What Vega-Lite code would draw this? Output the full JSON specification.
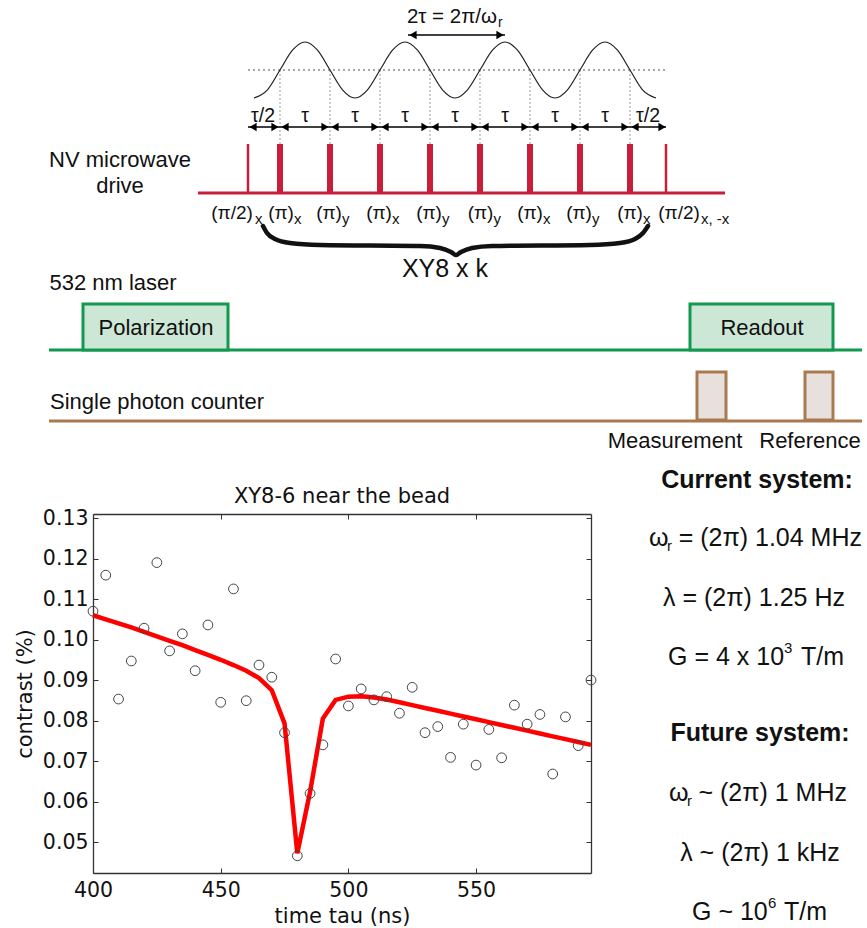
{
  "$schema": "https://vega.github.io/schema/vega-lite/v6.json",
  "width": 867,
  "height": 928,
  "padding": 0,
  "autosize": {"type": "none"},
  "background": "white",
  "config": {
    "view": {"stroke": null},
    "text": {"font": "Liberation Sans", "color": "#111111"},
    "axis": {
      "grid": false,
      "domainColor": "#333333",
      "domainWidth": 1.3,
      "tickColor": "#333333",
      "tickSize": -5,
      "tickWidth": 1,
      "labelFont": "DejaVu Sans",
      "labelFontSize": 20.5,
      "labelColor": "#111111",
      "labelPadding": 11,
      "labelFlush": false,
      "labelOverlap": false,
      "labelBound": false,
      "titleFont": "DejaVu Sans",
      "titleFontSize": 21,
      "titleFontWeight": "normal",
      "titleColor": "#111111"
    }
  },
  "datasets": {
    "wave": [
      {"x": 254, "y": 98}, {"x": 267.5, "y": 89.8}, {"x": 280, "y": 70}, {"x": 292.5, "y": 50.2},
      {"x": 305, "y": 42}, {"x": 317.5, "y": 50.2}, {"x": 330, "y": 70}, {"x": 342.5, "y": 89.8},
      {"x": 355, "y": 98}, {"x": 367.5, "y": 89.8}, {"x": 380, "y": 70}, {"x": 392.5, "y": 50.2},
      {"x": 405, "y": 42}, {"x": 417.5, "y": 50.2}, {"x": 430, "y": 70}, {"x": 442.5, "y": 89.8},
      {"x": 455, "y": 98}, {"x": 467.5, "y": 89.8}, {"x": 480, "y": 70}, {"x": 492.5, "y": 50.2},
      {"x": 505, "y": 42}, {"x": 517.5, "y": 50.2}, {"x": 530, "y": 70}, {"x": 542.5, "y": 89.8},
      {"x": 555, "y": 98}, {"x": 567.5, "y": 89.8}, {"x": 580, "y": 70}, {"x": 592.5, "y": 50.2},
      {"x": 605, "y": 42}, {"x": 617.5, "y": 50.2}, {"x": 630, "y": 70}, {"x": 642.5, "y": 89.8},
      {"x": 656, "y": 98}
    ],
    "dotH": [{"x": 248, "x2": 665, "y": 70}],
    "dotV": [
      {"x": 280, "y": 70, "y2": 144}, {"x": 330, "y": 70, "y2": 144}, {"x": 380, "y": 70, "y2": 144},
      {"x": 430, "y": 70, "y2": 144}, {"x": 480, "y": 70, "y2": 144}, {"x": 530, "y": 70, "y2": 144},
      {"x": 580, "y": 70, "y2": 144}, {"x": 630, "y": 70, "y2": 144}
    ],
    "arrowLines": [{"x": 248, "x2": 666, "y": 127}, {"x": 408, "x2": 505, "y": 35}],
    "arrowR": [
      {"x": 280, "y": 127}, {"x": 330, "y": 127}, {"x": 380, "y": 127}, {"x": 430, "y": 127},
      {"x": 480, "y": 127}, {"x": 530, "y": 127}, {"x": 580, "y": 127}, {"x": 630, "y": 127},
      {"x": 667, "y": 127}, {"x": 505, "y": 35}
    ],
    "arrowL": [
      {"x": 248, "y": 127}, {"x": 280, "y": 127}, {"x": 330, "y": 127}, {"x": 380, "y": 127},
      {"x": 430, "y": 127}, {"x": 480, "y": 127}, {"x": 530, "y": 127}, {"x": 580, "y": 127},
      {"x": 630, "y": 127}, {"x": 408, "y": 35}
    ],
    "tauLabels": [
      {"x": 263, "y": 116, "label": "τ/2"}, {"x": 305, "y": 116, "label": "τ"},
      {"x": 355, "y": 116, "label": "τ"}, {"x": 405, "y": 116, "label": "τ"},
      {"x": 455, "y": 116, "label": "τ"}, {"x": 505, "y": 116, "label": "τ"},
      {"x": 555, "y": 116, "label": "τ"}, {"x": 605, "y": 116, "label": "τ"},
      {"x": 648, "y": 116, "label": "τ/2"}
    ],
    "redBase": [{"x": 198, "x2": 725, "y": 193}],
    "pulsesThick": [
      {"x": 280, "y": 144, "y2": 193}, {"x": 330, "y": 144, "y2": 193}, {"x": 380, "y": 144, "y2": 193},
      {"x": 430, "y": 144, "y2": 193}, {"x": 480, "y": 144, "y2": 193}, {"x": 530, "y": 144, "y2": 193},
      {"x": 580, "y": 144, "y2": 193}, {"x": 630, "y": 144, "y2": 193}
    ],
    "pulsesThin": [{"x": 248, "y": 144, "y2": 193}, {"x": 666, "y": 144, "y2": 193}],
    "pulseMain": [
      {"x": 232, "y": 213, "label": "(π/2)"}, {"x": 281, "y": 213, "label": "(π)"},
      {"x": 329, "y": 213, "label": "(π)"}, {"x": 379, "y": 213, "label": "(π)"},
      {"x": 429, "y": 213, "label": "(π)"}, {"x": 480.5, "y": 213, "label": "(π)"},
      {"x": 530, "y": 213, "label": "(π)"}, {"x": 579, "y": 213, "label": "(π)"},
      {"x": 630, "y": 213, "label": "(π)"}, {"x": 679, "y": 213, "label": "(π/2)"}
    ],
    "subs": [
      {"x": 255, "y": 219, "label": "x"}, {"x": 294, "y": 219, "label": "x"},
      {"x": 342, "y": 219, "label": "y"}, {"x": 392, "y": 219, "label": "x"},
      {"x": 442, "y": 219, "label": "y"}, {"x": 493.5, "y": 219, "label": "y"},
      {"x": 543, "y": 219, "label": "x"}, {"x": 592, "y": 219, "label": "y"},
      {"x": 643, "y": 219, "label": "x"}, {"x": 701, "y": 219, "label": "x, -x"}
    ],
    "twoTauSub": [{"x": 498, "y": 23, "label": "r"}],
    "brace": [
      {"x": 263, "y": 226}, {"x": 267, "y": 233}, {"x": 275, "y": 239}, {"x": 290, "y": 243},
      {"x": 320, "y": 245}, {"x": 420, "y": 246}, {"x": 440, "y": 248}, {"x": 451, "y": 252},
      {"x": 456, "y": 255}, {"x": 461, "y": 252}, {"x": 472, "y": 248}, {"x": 492, "y": 246},
      {"x": 590, "y": 245}, {"x": 620, "y": 243}, {"x": 635, "y": 239}, {"x": 643, "y": 233},
      {"x": 648, "y": 226}
    ],
    "greenLine": [{"x": 49, "x2": 862, "y": 350}],
    "greenBoxes": [{"x": 83, "x2": 228, "y": 304, "y2": 350}, {"x": 690, "x2": 833, "y": 304, "y2": 350}],
    "brownLine": [{"x": 49, "x2": 862, "y": 421}],
    "brownBoxes": [{"x": 697, "x2": 726, "y": 372, "y2": 420}, {"x": 805, "x2": 833, "y": 372, "y2": 420}],
    "labels22": [
      {"x": 120, "y": 160, "label": "NV microwave"},
      {"x": 120, "y": 186, "label": "drive"},
      {"x": 113, "y": 283, "label": "532 nm laser"},
      {"x": 156, "y": 328, "label": "Polarization"},
      {"x": 762, "y": 328, "label": "Readout"},
      {"x": 157, "y": 402, "label": "Single photon counter"},
      {"x": 675, "y": 441, "label": "Measurement"},
      {"x": 810, "y": 441, "label": "Reference"}
    ],
    "xy8": [{"x": 445, "y": 269, "label": "XY8 x k"}],
    "twoTau": [{"x": 497, "y": 17, "label": "2τ = 2π/ω"}],
    "plotTitle": [{"x": 342, "y": 497, "label": "XY8-6 near the bead"}],
    "boldRight": [
      {"x": 757, "y": 480, "label": "Current system:"},
      {"x": 760, "y": 733, "label": "Future system:"}
    ],
    "rightLeft": [
      {"x": 649, "y": 538, "label": "ω"},
      {"x": 668, "y": 657, "label": "G = 4 x 10"},
      {"x": 669, "y": 793, "label": "ω"},
      {"x": 692, "y": 912, "label": "G ~ 10"}
    ],
    "rightRight": [
      {"x": 862, "y": 538, "label": "= (2π) 1.04 MHz"},
      {"x": 844, "y": 657, "label": "T/m"},
      {"x": 847, "y": 793, "label": "~ (2π) 1 MHz"},
      {"x": 827, "y": 912, "label": "T/m"}
    ],
    "rightCenter": [
      {"x": 754, "y": 598, "label": "λ = (2π) 1.25 Hz"},
      {"x": 760, "y": 853, "label": "λ ~ (2π) 1 kHz"}
    ],
    "rightSmall": [
      {"x": 667, "y": 546, "label": "r"},
      {"x": 784, "y": 648, "label": "3"},
      {"x": 687, "y": 801, "label": "r"},
      {"x": 768, "y": 903, "label": "6"}
    ],
    "pts": [
      {"t": 400, "c": 0.1070}, {"t": 405, "c": 0.1159}, {"t": 410, "c": 0.0853}, {"t": 415, "c": 0.0947},
      {"t": 420, "c": 0.1028}, {"t": 425, "c": 0.1190}, {"t": 430, "c": 0.0972}, {"t": 435, "c": 0.1014},
      {"t": 440, "c": 0.0923}, {"t": 445, "c": 0.1036}, {"t": 450, "c": 0.0845}, {"t": 455, "c": 0.1125},
      {"t": 460, "c": 0.0849}, {"t": 465, "c": 0.0937}, {"t": 470, "c": 0.0907}, {"t": 475, "c": 0.0770},
      {"t": 480, "c": 0.0466}, {"t": 485, "c": 0.0620}, {"t": 490, "c": 0.0740}, {"t": 495, "c": 0.0952},
      {"t": 500, "c": 0.0836}, {"t": 505, "c": 0.0878}, {"t": 510, "c": 0.0851}, {"t": 515, "c": 0.0859},
      {"t": 520, "c": 0.0818}, {"t": 525, "c": 0.0882}, {"t": 530, "c": 0.0770}, {"t": 535, "c": 0.0785},
      {"t": 540, "c": 0.0709}, {"t": 545, "c": 0.0791}, {"t": 550, "c": 0.0690}, {"t": 555, "c": 0.0778},
      {"t": 560, "c": 0.0708}, {"t": 565, "c": 0.0838}, {"t": 570, "c": 0.0791}, {"t": 575, "c": 0.0815},
      {"t": 580, "c": 0.0668}, {"t": 585, "c": 0.0809}, {"t": 590, "c": 0.0738}, {"t": 595, "c": 0.0900}
    ],
    "fit": [
      {"t": 400, "c": 0.1060}, {"t": 405, "c": 0.1050}, {"t": 410, "c": 0.1040}, {"t": 415, "c": 0.1030},
      {"t": 420, "c": 0.1019}, {"t": 425, "c": 0.1008}, {"t": 430, "c": 0.0997}, {"t": 435, "c": 0.0986},
      {"t": 440, "c": 0.0974}, {"t": 445, "c": 0.0962}, {"t": 450, "c": 0.0950}, {"t": 455, "c": 0.0937},
      {"t": 460, "c": 0.0923}, {"t": 465, "c": 0.0905}, {"t": 470, "c": 0.0875}, {"t": 475, "c": 0.0793},
      {"t": 480, "c": 0.0472}, {"t": 485, "c": 0.0624}, {"t": 490, "c": 0.0805}, {"t": 495, "c": 0.0851},
      {"t": 500, "c": 0.0859}, {"t": 505, "c": 0.0860}, {"t": 510, "c": 0.0857}, {"t": 515, "c": 0.0852},
      {"t": 520, "c": 0.0845}, {"t": 525, "c": 0.0838}, {"t": 530, "c": 0.0831}, {"t": 535, "c": 0.0824},
      {"t": 540, "c": 0.0817}, {"t": 545, "c": 0.0810}, {"t": 550, "c": 0.0803}, {"t": 555, "c": 0.0796},
      {"t": 560, "c": 0.0789}, {"t": 565, "c": 0.0782}, {"t": 570, "c": 0.0775}, {"t": 575, "c": 0.0768},
      {"t": 580, "c": 0.0761}, {"t": 585, "c": 0.0754}, {"t": 590, "c": 0.0747}, {"t": 595, "c": 0.0740}
    ]
  },
  "layer": [
    {
      "encoding": {
        "x": {"field": "x", "type": "quantitative", "scale": {"domain": [0, 867], "range": [0, 867], "nice": false, "zero": false}, "axis": null},
        "y": {"field": "y", "type": "quantitative", "scale": {"domain": [0, 928], "range": [0, 928], "nice": false, "zero": false}, "axis": null}
      },
      "layer": [
        {"data": {"name": "dotH"}, "mark": {"type": "rule", "color": "#555555", "strokeWidth": 1.2, "strokeDash": [2, 3]}, "encoding": {"x2": {"field": "x2"}}},
        {"data": {"name": "dotV"}, "mark": {"type": "rule", "color": "#9a9a9a", "strokeWidth": 1, "strokeDash": [2, 2]}, "encoding": {"y2": {"field": "y2"}}},
        {"data": {"name": "wave"}, "mark": {"type": "line", "color": "#222222", "strokeWidth": 1.2, "interpolate": "monotone"}, "encoding": {}},
        {"data": {"name": "arrowLines"}, "mark": {"type": "rule", "color": "#000000", "strokeWidth": 1.5}, "encoding": {"x2": {"field": "x2"}}},
        {"data": {"name": "arrowR"}, "mark": {"type": "point", "shape": "triangle-right", "filled": true, "color": "#000000", "size": 70, "opacity": 1, "xOffset": -5}, "encoding": {}},
        {"data": {"name": "arrowL"}, "mark": {"type": "point", "shape": "triangle-left", "filled": true, "color": "#000000", "size": 70, "opacity": 1, "xOffset": 5}, "encoding": {}},
        {"data": {"name": "tauLabels"}, "mark": {"type": "text", "fontSize": 19.5}, "encoding": {"text": {"field": "label", "type": "nominal"}}},
        {"data": {"name": "twoTau"}, "mark": {"type": "text", "fontSize": 20.5, "align": "right"}, "encoding": {"text": {"field": "label", "type": "nominal"}}},
        {"data": {"name": "twoTauSub"}, "mark": {"type": "text", "fontSize": 14, "align": "left"}, "encoding": {"text": {"field": "label", "type": "nominal"}}},
        {"data": {"name": "redBase"}, "mark": {"type": "rule", "color": "#c81e3a", "strokeWidth": 3}, "encoding": {"x2": {"field": "x2"}}},
        {"data": {"name": "pulsesThick"}, "mark": {"type": "rule", "color": "#c81e3a", "strokeWidth": 6}, "encoding": {"y2": {"field": "y2"}}},
        {"data": {"name": "pulsesThin"}, "mark": {"type": "rule", "color": "#c81e3a", "strokeWidth": 2.5}, "encoding": {"y2": {"field": "y2"}}},
        {"data": {"name": "pulseMain"}, "mark": {"type": "text", "fontSize": 19}, "encoding": {"text": {"field": "label", "type": "nominal"}}},
        {"data": {"name": "subs"}, "mark": {"type": "text", "fontSize": 15, "align": "left"}, "encoding": {"text": {"field": "label", "type": "nominal"}}},
        {"data": {"name": "brace"}, "mark": {"type": "line", "color": "#111111", "strokeWidth": 4.5, "strokeCap": "round", "interpolate": "monotone"}, "encoding": {}},
        {"data": {"name": "greenLine"}, "mark": {"type": "rule", "color": "#12994f", "strokeWidth": 3}, "encoding": {"x2": {"field": "x2"}}},
        {"data": {"name": "greenBoxes"}, "mark": {"type": "rect", "fill": "#cde7d6", "stroke": "#12994f", "strokeWidth": 3}, "encoding": {"x2": {"field": "x2"}, "y2": {"field": "y2"}}},
        {"data": {"name": "brownLine"}, "mark": {"type": "rule", "color": "#a97a4f", "strokeWidth": 3}, "encoding": {"x2": {"field": "x2"}}},
        {"data": {"name": "brownBoxes"}, "mark": {"type": "rect", "fill": "#e8e0dc", "stroke": "#a97a4f", "strokeWidth": 3}, "encoding": {"x2": {"field": "x2"}, "y2": {"field": "y2"}}},
        {"data": {"name": "labels22"}, "mark": {"type": "text", "fontSize": 22}, "encoding": {"text": {"field": "label", "type": "nominal"}}},
        {"data": {"name": "xy8"}, "mark": {"type": "text", "fontSize": 25}, "encoding": {"text": {"field": "label", "type": "nominal"}}},
        {"data": {"name": "plotTitle"}, "mark": {"type": "text", "fontSize": 21, "font": "DejaVu Sans"}, "encoding": {"text": {"field": "label", "type": "nominal"}}},
        {"data": {"name": "boldRight"}, "mark": {"type": "text", "fontSize": 25, "fontWeight": "bold"}, "encoding": {"text": {"field": "label", "type": "nominal"}}},
        {"data": {"name": "rightLeft"}, "mark": {"type": "text", "fontSize": 25, "align": "left"}, "encoding": {"text": {"field": "label", "type": "nominal"}}},
        {"data": {"name": "rightRight"}, "mark": {"type": "text", "fontSize": 25, "align": "right"}, "encoding": {"text": {"field": "label", "type": "nominal"}}},
        {"data": {"name": "rightCenter"}, "mark": {"type": "text", "fontSize": 25}, "encoding": {"text": {"field": "label", "type": "nominal"}}},
        {"data": {"name": "rightSmall"}, "mark": {"type": "text", "fontSize": 15, "align": "left"}, "encoding": {"text": {"field": "label", "type": "nominal"}}}
      ]
    },
    {
      "layer": [
        {
          "data": {"name": "fit"},
          "mark": {"type": "line", "color": "#ff0000", "strokeWidth": 4.5},
          "encoding": {
            "x": {"field": "t", "type": "quantitative",
              "scale": {"domain": [400, 595], "range": [93, 591], "nice": false, "zero": false},
              "axis": {"orient": "bottom", "offset": -55, "values": [400, 450, 500, 550], "title": "time tau (ns)", "titlePadding": 5, "labelPadding": 12}},
            "y": {"field": "c", "type": "quantitative",
              "scale": {"domain": [0.04235, 0.131], "range": [873, 514], "nice": false, "zero": false},
              "axis": {"orient": "left", "offset": -93, "values": [0.05, 0.06, 0.07, 0.08, 0.09, 0.1, 0.11, 0.12, 0.13], "format": ".2f", "title": "contrast (%)", "titlePadding": 7, "labelPadding": 10}}
          }
        },
        {
          "data": {"name": "pts"},
          "mark": {"type": "point", "shape": "circle", "filled": false, "color": "#444444", "size": 95, "strokeWidth": 1, "opacity": 1},
          "encoding": {
            "x": {"field": "t", "type": "quantitative",
              "axis": {"orient": "top", "offset": -514, "values": [400, 450, 500, 550], "labels": false, "title": null}},
            "y": {"field": "c", "type": "quantitative",
              "axis": {"orient": "right", "offset": -276, "values": [0.05, 0.06, 0.07, 0.08, 0.09, 0.1, 0.11, 0.12, 0.13], "labels": false, "title": null}}
          }
        }
      ],
      "resolve": {"axis": {"x": "independent", "y": "independent"}}
    }
  ],
  "resolve": {
    "scale": {"x": "independent", "y": "independent"},
    "axis": {"x": "independent", "y": "independent"}
  }
}
